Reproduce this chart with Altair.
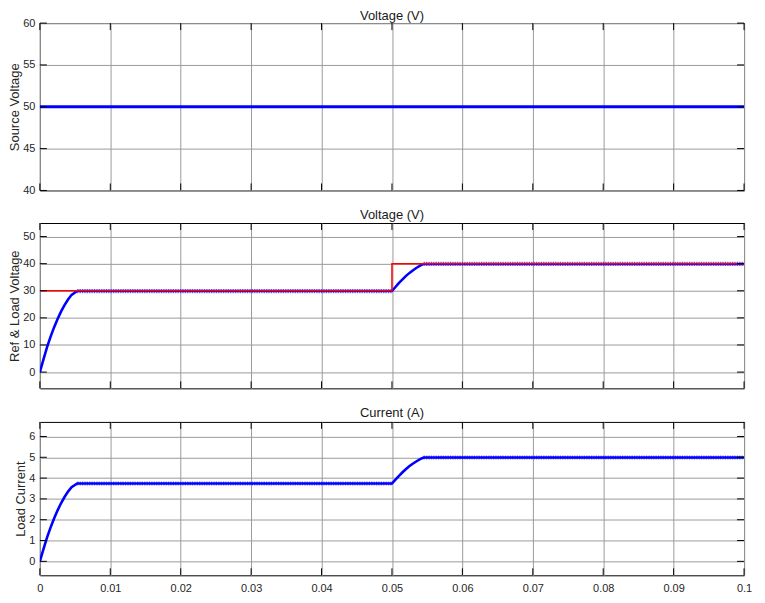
import altair as alt
import pandas as pd

# ---------------- data ----------------
x_ticks = [0, 0.01, 0.02, 0.03, 0.04, 0.05, 0.06, 0.07, 0.08, 0.09, 0.1]

src_t = [0.0, 0.1]
src_v = [50.0, 50.0]
src_ticks = [40, 45, 50, 55, 60]

ref_t = [0.0, 0.05, 0.05, 0.1]
ref_v = [30.0, 30.0, 40.0, 40.0]

load_t = [0.0, 0.0005, 0.001, 0.0015, 0.002, 0.0025, 0.003, 0.0035, 0.004, 0.0045, 0.0053,
          0.05, 0.0505, 0.051, 0.0515, 0.052, 0.0525, 0.053, 0.0535, 0.054, 0.0545, 0.1]
load_v = [0.0, 4.6, 9.0, 12.9, 16.4, 19.5, 22.3, 24.7, 26.8, 28.5, 29.9,
          29.9, 31.4, 32.9, 34.2, 35.5, 36.6, 37.6, 38.5, 39.3, 39.9, 39.9]
vol_ticks = [0, 10, 20, 30, 40, 50]

cur_t = [0.0, 0.0005, 0.001, 0.0015, 0.002, 0.0025, 0.003, 0.0035, 0.004, 0.0045, 0.0053,
         0.05, 0.0505, 0.051, 0.0515, 0.052, 0.0525, 0.053, 0.0535, 0.054, 0.0545, 0.1]
cur_i = [0.0, 0.58, 1.13, 1.61, 2.05, 2.44, 2.79, 3.09, 3.35, 3.56, 3.74,
         3.74, 3.93, 4.11, 4.28, 4.44, 4.58, 4.70, 4.81, 4.91, 4.99, 4.99]
cur_ticks = [0, 1, 2, 3, 4, 5, 6]

W = 707
FONT = "Liberation Sans"
GRID = "#9a9a9a"
BLUE = "#0000ff"


def steady_parts(tt, vv):
    # the flat (rippling) stretches of a trace: after each rise
    return [(tt[10:12], vv[10:12]), (tt[20:22], vv[20:22])]


def panel(title, ytitle, ydomain, yticks, height, lines, ripple, show_x_labels,
          title_offset, x_min_extent):
    xaxis = alt.Axis(values=x_ticks, grid=True, gridColor=GRID, gridOpacity=1, gridWidth=1,
                     labels=show_x_labels, ticks=False, domain=False, title=None,
                     labelFlush=False, labelOverlap=False, format=".2~f", labelPadding=7,
                     labelFontSize=11, labelColor="#262626", labelFont=FONT,
                     minExtent=x_min_extent)
    yaxis = alt.Axis(values=yticks, grid=True, gridColor=GRID, gridOpacity=1, gridWidth=1,
                     ticks=False, domain=False, title=ytitle, titleFontSize=13,
                     titleFontWeight="normal", titleColor="#262626", titleFont=FONT,
                     titlePadding=1, labelPadding=5, labelFontSize=11, labelColor="#262626",
                     labelFont=FONT, labelFlush=False, labelOverlap=False)
    xs = alt.Scale(domain=[0, 0.1], nice=False, zero=False)
    ys = alt.Scale(domain=ydomain, nice=False, zero=False)

    def enc(ch):
        return ch.encode(x=alt.X("t:Q", scale=xs, axis=xaxis),
                         y=alt.Y("v:Q", scale=ys, axis=yaxis))

    layers = []
    # ripple texture under the steady parts of the blue trace
    for (tt, vv) in ripple:
        df = pd.DataFrame({"t": tt, "v": vv})
        layers.append(enc(alt.Chart(df).mark_line(color="#3d3dff", strokeWidth=4.2,
                                                  strokeDash=[1.2, 1.2], opacity=0.75,
                                                  clip=True)))
    for (tt, vv, color, width) in lines:
        df = pd.DataFrame({"t": tt, "v": vv})
        layers.append(enc(alt.Chart(df).mark_line(color=color, strokeWidth=width, clip=True)))

    # inward tick marks (MATLAB style)
    xt = pd.DataFrame({"t": x_ticks})
    yt = pd.DataFrame({"v": yticks})
    layers.append(alt.Chart(xt).mark_rule(color="black", strokeWidth=1).encode(
        x=alt.X("t:Q", scale=xs, axis=xaxis), y=alt.value(0), y2=alt.value(7)))
    layers.append(alt.Chart(xt).mark_rule(color="black", strokeWidth=1).encode(
        x=alt.X("t:Q", scale=xs, axis=xaxis), y=alt.value(height - 7), y2=alt.value(height)))
    layers.append(alt.Chart(yt).mark_rule(color="black", strokeWidth=1).encode(
        y=alt.Y("v:Q", scale=ys, axis=yaxis), x=alt.value(0), x2=alt.value(7)))
    layers.append(alt.Chart(yt).mark_rule(color="black", strokeWidth=1).encode(
        y=alt.Y("v:Q", scale=ys, axis=yaxis), x=alt.value(W - 7), x2=alt.value(W)))

    return alt.layer(*layers).properties(
        width=W, height=height,
        title=alt.TitleParams(title, offset=title_offset, fontSize=13, fontWeight="normal",
                              anchor="middle", color="#1a1a1a", font=FONT),
    )


p1 = panel("Voltage (V)", "Source Voltage", [40, 60], src_ticks, 168,
           [(src_t, src_v, BLUE, 3)], [], False, -5.4, 0)
p2 = panel("Voltage (V)", "Ref & Load Voltage", [-6, 55], vol_ticks, 166,
           [(load_t, load_v, BLUE, 2.6), (ref_t, ref_v, "#ff0000", 1.5)],
           steady_parts(load_t, load_v), False, 1.0, 4.7)
p3 = panel("Current (A)", "Load Current", [-0.67, 6.7], cur_ticks, 154,
           [(cur_t, cur_i, BLUE, 2.6)], steady_parts(cur_t, cur_i), True, 1.9, 0)

chart = alt.vconcat(p1, p2, p3, spacing=11.7).properties(
    padding={"left": 0, "top": -1, "right": 4, "bottom": -2},
    background="white",
).configure_view(stroke="black", strokeWidth=1)

chart.save("out.html", embed_options={"renderer": "svg", "actions": False})
